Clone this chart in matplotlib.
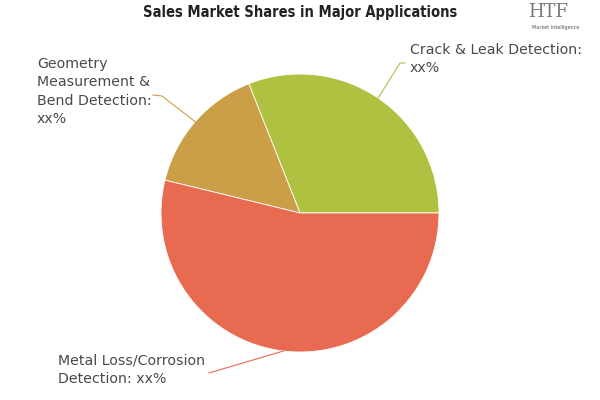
import numpy as np
import matplotlib.pyplot as plt

# shares (labels show "xx%")
segments = ["Crack & Leak Detection", "Geometry Measurement & Bend Detection",
            "Metal Loss/Corrosion Detection"]
shares = [31.0, 15.2, 53.8]
colors = ["#B0C040", "#CA9F48", "#E86A50"]
labels = ["Crack & Leak Detection:\nxx%",
          "Geometry\nMeasurement &\nBend Detection:\nxx%",
          "Metal Loss/Corrosion\nDetection: xx%"]

W, H = 600, 400
fig = plt.figure(figsize=(6, 4), dpi=100)
ax = fig.add_axes([0, 0, 1, 1])

cx, cy, r = 300, H - 213, 139
wedges, _ = ax.pie(shares, colors=colors, startangle=0, counterclock=True,
                   center=(cx, cy), radius=r, frame=True,
                   wedgeprops=dict(edgecolor="white", linewidth=0.6))
ax.set_xlim(0, W)
ax.set_ylim(0, H)
ax.set_aspect("equal")
ax.axis("off")

# label placement (text anchor, elbow point, end of leader)
label_pos = [(410, H - 43), (37, H - 57), (58, H - 354)]
elbows = [(400, H - 63), (162, H - 96), (209, H - 373)]
ends = [(405, H - 63), (153, H - 95), (209, H - 373)]

for w, lab, tp, eb, en, lc in zip(wedges, labels, label_pos, elbows, ends, colors):
    mid = np.deg2rad((w.theta1 + w.theta2) / 2)
    px, py = cx + r * np.cos(mid), cy + r * np.sin(mid)
    ax.plot([px, eb[0], en[0]], [py, eb[1], en[1]], color=lc, lw=0.8)
    ax.text(tp[0], tp[1], lab, ha="left", va="top", fontsize=10.2,
            color="#4a4a4a", linespacing=1.4, family="DejaVu Sans")

fig.text(300 / W, 1 - 13 / H, "Sales Market Shares in Major Applications",
         ha="center", va="center", fontsize=10.5, fontweight="heavy",
         fontstretch="condensed", color="#222222", family="DejaVu Sans")

# logo
fig.text(548 / W, 1 - 12 / H, "HTF", ha="center", va="center", fontsize=13,
         color="#777777", family="DejaVu Serif")
fig.text(556 / W, 1 - 27 / H, "Market Intelligence", ha="center", va="center",
         fontsize=3.5, color="#555555")

fig.savefig("out.png", dpi=100)
